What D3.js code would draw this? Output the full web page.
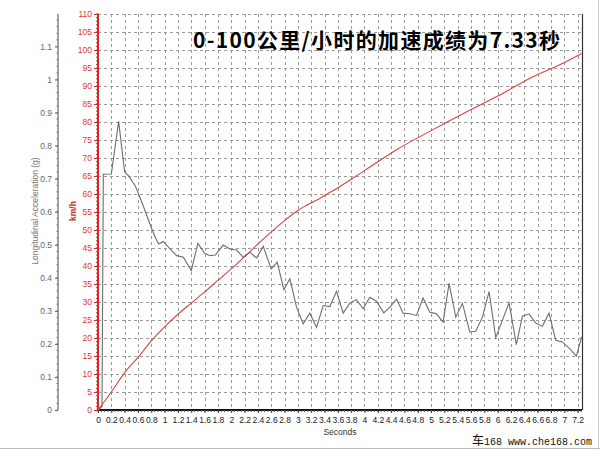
<!DOCTYPE html>
<html>
<head>
<meta charset="utf-8">
<script src="https://cdn.jsdelivr.net/npm/d3@7"></script>
<style>
  html, body { margin: 0; padding: 0; background: #fff; }
  svg { display: block; }
  text { font-family: "Liberation Sans", Arial, sans-serif; }
</style>
</head>
<body>
<svg id="chart" width="600" height="450"></svg>
<script>
// ---- data ----
const accelTime = [0,0.06,0.08,0.2,0.31,0.40,0.46,0.56,0.68,0.78,0.86,0.91,0.98,1.06,1.18,1.28,1.40,1.50,1.60,1.68,1.76,1.88,1.98,2.08,2.18,2.28,2.38,2.48,2.60,2.69,2.79,2.88,2.98,3.08,3.18,3.28,3.38,3.48,3.58,3.68,3.78,3.88,3.98,4.08,4.18,4.29,4.39,4.48,4.58,4.68,4.78,4.88,4.98,5.08,5.18,5.27,5.37,5.47,5.58,5.67,5.77,5.87,5.97,6.07,6.17,6.28,6.37,6.47,6.57,6.67,6.77,6.87,6.97,7.08,7.18,7.26];
const accelG = [0,0.01,0.713,0.714,0.873,0.72,0.708,0.678,0.617,0.562,0.522,0.502,0.51,0.492,0.467,0.462,0.422,0.504,0.474,0.467,0.469,0.499,0.487,0.484,0.462,0.477,0.46,0.495,0.427,0.447,0.364,0.397,0.311,0.261,0.293,0.25,0.316,0.313,0.359,0.293,0.323,0.334,0.306,0.341,0.329,0.294,0.313,0.336,0.293,0.291,0.286,0.339,0.296,0.291,0.266,0.383,0.281,0.323,0.236,0.238,0.281,0.358,0.219,0.271,0.324,0.198,0.284,0.291,0.263,0.253,0.293,0.211,0.206,0.186,0.163,0.221];
const speedTime = [0,0.2,0.4,0.6,0.8,1.0,1.2,1.4,1.6,1.8,2.0,2.2,2.5,2.8,3.0,3.3,3.5,4.0,4.5,5.0,5.5,6.0,6.5,7.0,7.26];
const speedKmh = [0,5.0,10.4,14.6,19.2,23.1,26.6,29.7,32.8,36.0,39.2,42.6,47.8,52.6,55.4,58.5,60.6,66.5,72.5,77.6,82.5,87.2,92.3,96.5,99.0];
const xTicks = d3.range(0, 7.21, 0.2).map(v => +v.toFixed(1));
const gTicks = d3.range(0, 1.11, 0.1).map(v => +v.toFixed(1));
const speedTicks = d3.range(0, 111, 5);
const titleText = "0-100公里/小时的加速成绩为7.33秒";
const watermarkCn = "车";
const watermarkRest = "168 www.che168.com";
const xLabel = "Seconds";
const gLabel = "Longitudinal Acceleration (g)";
const speedLabel = "km/h";

// ---- layout ----
const L = 98, R = 582, T = 14, B = 410;
const svg = d3.select("#chart");
const x = d3.scaleLinear().domain([0, 7.265]).range([L, R]);
const yS = d3.scaleLinear().domain([0, 110]).range([B, T]);
const yG = d3.scaleLinear().domain([0, 1.198]).range([B, T]);
const red = "#d42a2a";

// grid
const grid = svg.append("g").attr("stroke", "#9a9a9a").attr("stroke-dasharray", "3,3").attr("stroke-width", 1);
grid.selectAll("line.h").data(speedTicks.filter(d => d > 0)).join("line")
  .attr("x1", L).attr("x2", R).attr("y1", d => Math.round(yS(d)) + 0.5).attr("y2", d => Math.round(yS(d)) + 0.5);
grid.selectAll("line.v").data(xTicks.filter(d => d > 0)).join("line")
  .attr("y1", T).attr("y2", B).attr("x1", d => Math.round(x(d)) + 0.5).attr("x2", d => Math.round(x(d)) + 0.5);

// right border
svg.append("line").attr("x1", R + 0.5).attr("x2", R + 0.5).attr("y1", T).attr("y2", B).attr("stroke", "#333").attr("stroke-width", 1.2);

// left g axis
const gAxis = svg.append("g").attr("transform", "translate(58,0)")
  .call(d3.axisLeft(yG).tickValues(gTicks).tickSize(3).tickPadding(3).tickFormat(d3.format("~g")));
gAxis.select(".domain").attr("stroke", "#444").attr("d", `M0,${T}V${B}`);
gAxis.selectAll(".tick line").attr("stroke", "#555");
gAxis.selectAll("text").attr("fill", "#666").style("font-size", "8.5px");
svg.append("g").attr("transform", "translate(58,0)").selectAll("line")
  .data(d3.range(0, 1.19, 0.02)).join("line")
  .attr("x1", -1.5).attr("x2", 0).attr("y1", d => yG(d)).attr("y2", d => yG(d)).attr("stroke", "#777");

// speed axis (red)
const sAxis = svg.append("g").attr("transform", `translate(${L},0)`)
  .call(d3.axisLeft(yS).tickValues(speedTicks).tickSize(4).tickPadding(2));
sAxis.select(".domain").attr("stroke", red).attr("stroke-width", 2).attr("d", `M0,${T}V${B}`);
sAxis.selectAll(".tick line").attr("stroke", red);
sAxis.selectAll("text").attr("fill", "#e03535").style("font-size", "8.5px");
svg.append("g").attr("transform", `translate(${L},0)`).selectAll("line")
  .data(d3.range(0, 111, 1)).join("line")
  .attr("x1", -2).attr("x2", 1).attr("y1", d => yS(d)).attr("y2", d => yS(d)).attr("stroke", red);

// x axis
const xAxis = svg.append("g").attr("transform", `translate(0,${B})`)
  .call(d3.axisBottom(x).tickValues(xTicks).tickSize(3).tickPadding(4).tickFormat(d3.format("~g")));
xAxis.select(".domain").attr("stroke", "#111").attr("stroke-width", 2).attr("d", `M${L},0H${R}`);
xAxis.selectAll(".tick line").attr("stroke", "#333");
xAxis.selectAll("text").attr("fill", "#222").style("font-size", "8.5px");
svg.append("g").attr("transform", `translate(0,${B})`).selectAll("line")
  .data(d3.range(0, 7.26, 0.05)).join("line")
  .attr("x1", d => x(d)).attr("x2", d => x(d)).attr("y1", 0).attr("y2", 2).attr("stroke", "#555");

// axis labels
svg.append("text").attr("x", 340).attr("y", 435).attr("text-anchor", "middle")
  .attr("fill", "#333").style("font-size", "8.5px").text(xLabel);
svg.append("text").attr("transform", "translate(38,211) rotate(-90)").attr("text-anchor", "middle")
  .attr("fill", "#777").style("font-size", "8.5px").text(gLabel);
svg.append("text").attr("transform", "translate(76,211) rotate(-90)").attr("text-anchor", "middle")
  .attr("fill", red).style("font-size", "8.5px").style("font-weight", "bold").text(speedLabel);

// series
svg.append("path").datum(accelTime.map((t, i) => [t, accelG[i]]))
  .attr("fill", "none").attr("stroke", "#6e6e6e").attr("stroke-width", 1.1)
  .attr("d", d3.line().x(d => x(d[0])).y(d => yG(d[1])));
svg.append("path").datum(speedTime.map((t, i) => [t, speedKmh[i]]))
  .attr("fill", "none").attr("stroke", "#d9443f").attr("stroke-width", 1.1)
  .attr("d", d3.line().curve(d3.curveMonotoneX).x(d => x(d[0])).y(d => yS(d[1])));

// title
svg.append("text").attr("x", 193).attr("y", 48)
  .attr("textLength", 367).attr("lengthAdjust", "spacing")
  .style("font-family", "'Noto Sans CJK SC', sans-serif").style("font-weight", "bold")
  .style("font-size", "21px").attr("fill", "#000").text(titleText);

// watermark
const wm = svg.append("text").attr("x", 472).attr("y", 445).attr("fill", "#111");
wm.append("tspan").style("font-family", "'Noto Sans CJK SC', sans-serif").style("font-size", "12px").text(watermarkCn);
wm.append("tspan").style("font-family", "'Liberation Mono', monospace").style("font-size", "10px").text(watermarkRest);

// outer frame lines
svg.append("line").attr("x1", 0).attr("x2", 600).attr("y1", 448.5).attr("y2", 448.5).attr("stroke", "#bbb");
svg.append("line").attr("x1", 598.5).attr("x2", 598.5).attr("y1", 0).attr("y2", 450).attr("stroke", "#ccc");
</script>
</body>
</html>
